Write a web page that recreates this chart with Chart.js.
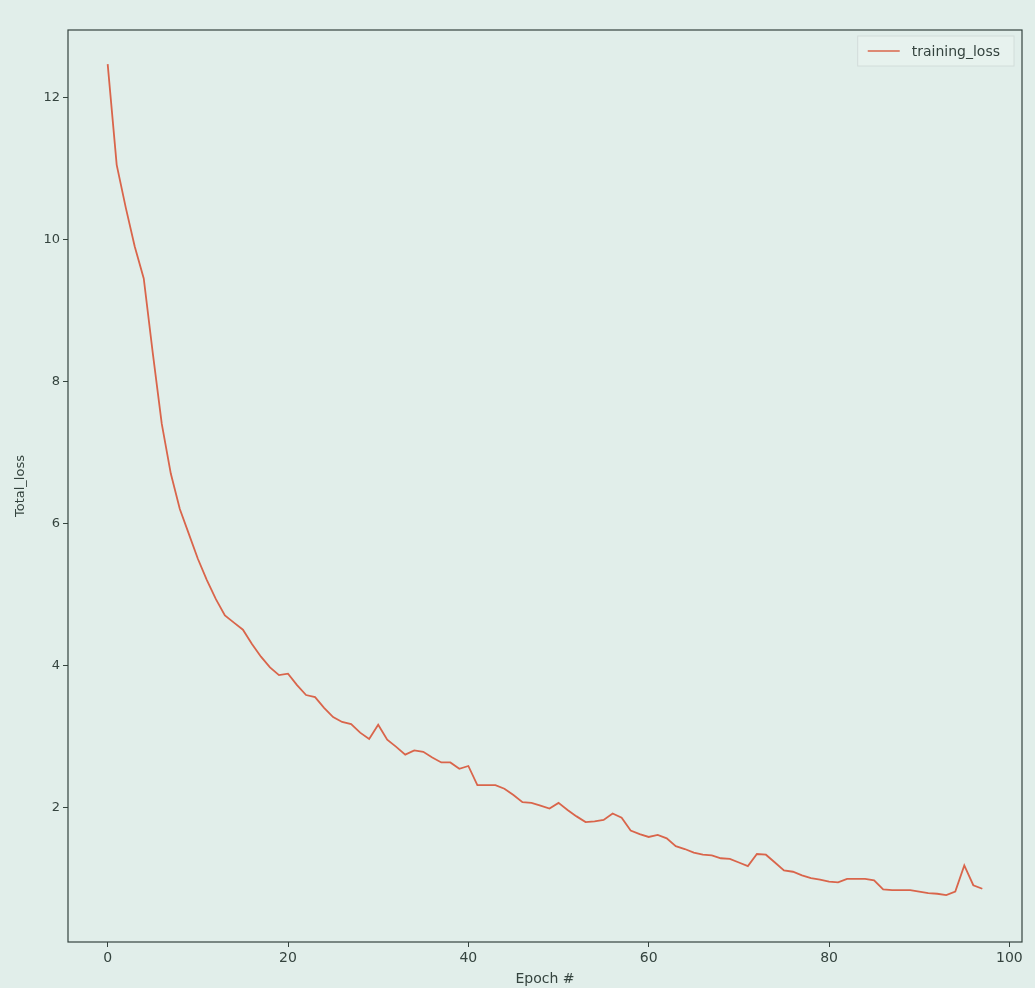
<!DOCTYPE html>
<html>
<head>
<meta charset="utf-8">
<script src="https://cdn.jsdelivr.net/npm/chart.js@4.4.1/dist/chart.umd.min.js"></script>
<style>
  html, body { margin: 0; padding: 0; background: #e1eeea; }
  #wrap { width: 1035px; height: 988px; }
</style>
</head>
<body>
<div id="wrap"><canvas id="lossChart" width="1035" height="988"></canvas></div>
<script>
// training loss per epoch
const epochs = Array.from({ length: 98 }, (_, i) => i);
const trainingLoss = [
  12.47, 11.05, 10.45, 9.9, 9.45, 8.4, 7.4, 6.7, 6.2, 5.85,
  5.5, 5.2, 4.93, 4.7, 4.6, 4.5, 4.3, 4.12, 3.97, 3.86,
  3.88, 3.72, 3.58, 3.55, 3.4, 3.27, 3.2, 3.17, 3.05, 2.96,
  3.16, 2.95, 2.85, 2.74, 2.8, 2.78, 2.7, 2.63, 2.63, 2.54,
  2.58, 2.31, 2.31, 2.31, 2.26, 2.17, 2.07, 2.06, 2.02, 1.98,
  2.06, 1.96, 1.87, 1.79, 1.8, 1.82, 1.91, 1.85, 1.67, 1.62,
  1.58, 1.61, 1.56, 1.45, 1.41, 1.36, 1.33, 1.32, 1.28, 1.27,
  1.22, 1.17, 1.34, 1.33, 1.22, 1.11, 1.09, 1.04, 1.0, 0.98,
  0.95, 0.94, 0.99, 0.99, 0.99, 0.97, 0.84, 0.83, 0.83, 0.83,
  0.81, 0.79, 0.78, 0.76, 0.81, 1.18, 0.9, 0.85
];
const xTicks = [0, 20, 40, 60, 80, 100];
const yTicks = [2, 4, 6, 8, 10, 12];

const inkColor = "#34433e";
const lineColor = "#d9654b";

// matplotlib-style frame and legend inside the plot
const frameAndLegend = {
  id: "frameAndLegend",
  afterDraw(chart) {
    const { ctx, chartArea: a } = chart;
    ctx.save();
    ctx.strokeStyle = inkColor;
    ctx.lineWidth = 1.2;
    ctx.strokeRect(a.left, a.top, a.right - a.left, a.bottom - a.top);

    const label = chart.data.datasets[0].label;
    ctx.font = "14px 'DejaVu Sans'";
    const tw = ctx.measureText(label).width;
    const bw = tw + 68, bh = 30;
    const bx = a.right - bw - 8, by = a.top + 6;
    ctx.fillStyle = "rgba(232,242,239,0.8)";
    ctx.strokeStyle = "#d2dcd9";
    ctx.lineWidth = 1;
    ctx.fillRect(bx, by, bw, bh);
    ctx.strokeRect(bx, by, bw, bh);
    ctx.strokeStyle = lineColor;
    ctx.lineWidth = 1.6;
    ctx.beginPath();
    ctx.moveTo(bx + 10, by + bh / 2);
    ctx.lineTo(bx + 42, by + bh / 2);
    ctx.stroke();
    ctx.fillStyle = inkColor;
    ctx.textBaseline = "middle";
    ctx.fillText(label, bx + 54, by + bh / 2 + 1);
    ctx.restore();
  },
};

const ctx = document.getElementById("lossChart").getContext("2d");
new Chart(ctx, {
  type: "line",
  data: {
    labels: epochs,
    datasets: [
      {
        label: "training_loss",
        data: epochs.map((e, i) => ({ x: e, y: trainingLoss[i] })),
        borderColor: lineColor,
        borderWidth: 1.8,
        pointRadius: 0,
        tension: 0,
        fill: false,
      },
    ],
  },
  options: {
    responsive: false,
    animation: false,
    layout: { padding: { top: 30, right: 13, left: 0, bottom: 0 } },
    plugins: {
      legend: { display: false },
      tooltip: { enabled: false },
    },
    scales: {
      x: {
        type: "linear",
        min: -4.4,
        max: 101.4,
        afterBuildTicks: (s) => { s.ticks = xTicks.map((v) => ({ value: v })); },
        afterFit: (s) => { s.height = 46; },
        grid: { display: true, drawOnChartArea: false, drawTicks: true, tickLength: 5, color: inkColor },
        border: { display: false },
        ticks: { color: inkColor, font: { size: 14, family: "DejaVu Sans" }, padding: 3, maxRotation: 0 },
        title: { display: true, text: "Epoch #", color: inkColor, font: { size: 14, family: "DejaVu Sans" }, padding: { top: 0, bottom: 0 } },
      },
      y: {
        min: 0.1,
        max: 12.95,
        afterBuildTicks: (s) => { s.ticks = yTicks.map((v) => ({ value: v })); },
        afterFit: (s) => { s.width = 68; },
        grid: { display: true, drawOnChartArea: false, drawTicks: true, tickLength: 5, color: inkColor },
        border: { display: false },
        ticks: { color: inkColor, font: { size: 13, family: "DejaVu Sans" }, padding: 3 },
        title: { display: true, text: "Total_loss", color: inkColor, font: { size: 13, family: "DejaVu Sans" }, padding: { top: 13, bottom: 0 } },
      },
    },
  },
  plugins: [frameAndLegend],
});
</script>
</body>
</html>
